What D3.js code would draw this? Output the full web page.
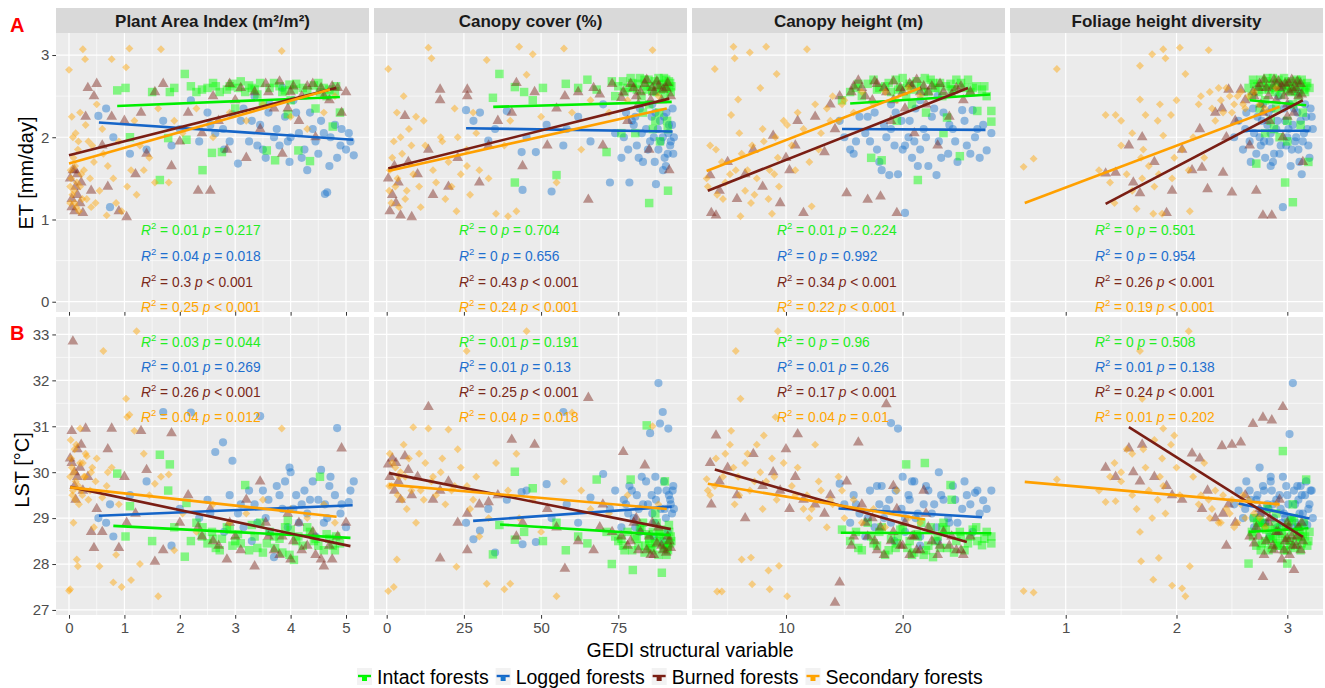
<!DOCTYPE html>
<html>
<head>
<meta charset="utf-8">
<script src="https://cdn.jsdelivr.net/npm/d3@7"></script>
<style>
  body { margin: 0; background: #fff; }
  svg { font-family: "Liberation Sans", Arial, sans-serif; }
</style>
</head>
<body>
<div id="chart"></div>
<script>
// ---- data: [x, ET (mm/day), LST (°C)] per site ----
const groups = ["Intact forests", "Logged forests", "Burned forests", "Secondary forests"];
const columns = ["Plant Area Index (m²/m²)", "Canopy cover (%)", "Canopy height (m)", "Foliage height diversity"];

const paiIntact = [[0.87,2.57,29.97],[1.02,2.6,28.6],[1.1,2.0,29.26],[1.64,1.48,30.38],[1.79,1.99,29.6],[1.82,2.55,30.17],[2.09,2.77,28.16],[2.12,1.97,29.33],[2.2,2.62,28.5],[2.41,1.6,28.8],[2.5,2.6,28.45],[2.58,1.81,28.7],[2.65,2.62,28.35],[2.76,1.82,28.55],[2.85,2.58,28.8],[2.95,2.65,28.4],[3.05,2.6,28.65],[3.18,2.55,29.72],[3.25,2.63,28.3],[3.35,2.58,28.6],[3.45,2.66,28.9],[3.57,1.84,28.45],[3.62,2.6,28.7],[3.72,1.72,28.35],[3.8,2.62,28.55],[3.9,2.57,28.8],[3.98,2.64,28.2],[4.06,2.58,28.09],[4.14,1.84,28.6],[4.22,2.6,28.4],[4.35,1.71,28.7],[4.42,2.63,28.5],[4.53,2.55,29.9],[4.6,2.6,28.3],[4.7,2.58,28.55],[4.76,2.13,28.4],[4.82,2.62,28.6],[4.89,2.3,28.45],[3.0,2.35,28.5],[4.0,2.45,28.75],[3.5,2.4,28.25],[2.3,2.55,28.9],
  [2.6,2.66,28.55],[2.72,2.55,28.3],[2.9,2.62,28.75],[3.1,2.68,28.45],[3.3,2.6,28.85],[3.4,2.52,28.35],[3.7,2.66,28.6],[3.85,2.55,28.25],[4.1,2.65,28.5],[4.3,2.57,28.8],[4.5,2.66,28.4],[4.65,2.5,28.65],[4.8,2.56,28.3],[2.4,2.58,28.6],[1.9,2.6,28.8],[1.5,2.55,28.5],[3.95,2.28,28.95],[4.45,2.35,28.55]];
const paiLogged = [[0.53,2.26,29.0],[0.67,2.35,28.9],[0.74,1.15,29.3],[0.8,2.0,28.6],[1.1,1.8,29.5],[1.4,1.85,29.8],[1.7,2.2,31.31],[1.85,1.9,28.4],[2.0,2.1,29.2],[2.2,2.45,31.3],[2.35,1.95,29.0],[2.5,2.3,29.4],[2.64,2.05,30.44],[2.78,2.1,30.65],[2.95,2.28,30.25],[3.05,1.68,29.1],[3.15,2.35,28.8],[3.25,1.95,29.6],[3.35,2.5,29.3],[3.45,2.15,31.22],[3.55,1.75,29.0],[3.62,2.4,28.7],[3.7,2.0,28.15],[3.8,1.9,29.5],[3.9,2.25,29.8],[3.98,1.7,30.1],[4.05,2.45,29.2],[4.15,2.05,28.9],[4.25,1.85,29.6],[4.35,2.3,29.4],[4.45,1.95,28.6],[4.55,2.2,30.05],[4.62,1.31,29.3],[4.66,1.33,29.0],[4.72,2.0,29.9],[4.84,1.75,30.96],[4.92,2.1,29.3],[5.0,1.85,28.8],[5.08,1.95,29.6],[5.14,1.78,29.8],[3.3,2.2,28.5],[2.8,1.85,28.7],[4.3,1.6,29.1],[3.85,2.6,29.2],
  [2.55,2.15,29.1],[2.9,1.95,29.5],[3.1,2.2,29.3],[3.4,1.9,28.9],[3.6,2.3,29.4],[3.75,2.1,29.7],[3.95,1.95,28.8],[4.1,2.3,29.5],[4.2,1.75,29.3],[4.4,2.1,29.8],[4.5,1.8,29.4],[4.6,2.05,28.9],[4.8,2.15,29.5],[4.9,1.9,29.1],[5.05,2.05,29.35],[4.7,1.65,29.7],[3.5,1.85,29.6],[4.0,2.0,30.0]];
const paiBurned = [[0.02,1.5,30.3],[0.05,1.25,30.9],[0.07,1.6,32.85],[0.1,1.1,30.0],[0.12,1.4,29.4],[0.15,1.55,30.5],[0.2,1.2,30.1],[0.25,1.08,29.6],[0.3,2.25,30.95],[0.34,2.6,29.9],[0.4,1.35,28.7],[0.45,2.5,28.35],[0.5,2.65,29.2],[0.6,1.9,28.7],[0.7,1.4,30.5],[0.77,2.25,30.95],[0.9,1.1,28.35],[1.0,2.2,29.9],[1.04,1.03,28.9],[1.2,1.55,29.1],[1.3,2.3,30.9],[1.4,1.8,30.05],[1.55,2.55,28.05],[1.7,2.65,28.3],[1.85,1.65,30.85],[2.0,1.95,28.9],[2.15,2.3,29.5],[2.33,1.35,28.8],[2.55,1.35,29.2],[2.7,2.2,28.4],[2.85,1.85,28.1],[3.0,2.45,28.6],[3.2,1.75,29.4],[3.35,2.55,27.95],[3.45,2.1,29.8],[3.55,2.65,28.9],[3.7,2.35,28.3],[3.85,1.8,28.6],[4.0,2.55,28.1],[4.15,2.2,28.9],[4.3,2.62,28.4],[4.45,2.0,28.2],[4.6,2.5,27.95],[4.75,2.62,28.1],[4.92,2.3,30.52],[5.0,2.55,28.9],[2.4,2.05,28.6],[3.95,2.35,29.1],
  [3.1,2.6,28.3],[3.6,2.55,28.6],[3.8,2.68,28.2],[4.05,2.62,28.5],[4.2,2.5,28.3],[4.4,2.65,28.7],[4.55,2.6,28.1],[4.7,2.45,28.4],[4.85,2.6,28.6],[2.9,2.65,28.9],[2.6,2.5,28.5],[0.05,1.15,30.2],[0.15,1.3,29.9],[0.22,1.45,30.6],[0.1,1.6,29.7]];
const paiSecondary = [[0.0,2.82,27.42],[0.02,1.4,27.45],[0.03,1.6,30.7],[0.05,2.25,30.1],[0.06,1.3,29.5],[0.08,1.75,28.9],[0.1,1.2,30.5],[0.12,2.05,29.8],[0.14,1.45,28.1],[0.16,1.85,27.95],[0.18,1.1,29.3],[0.2,2.3,30.95],[0.22,1.55,29.6],[0.25,3.07,30.2],[0.29,2.95,29.9],[0.32,1.25,30.35],[0.35,1.95,29.4],[0.4,1.15,30.0],[0.45,1.7,28.8],[0.5,2.4,30.3],[0.55,1.35,27.95],[0.62,1.8,32.64],[0.68,1.05,29.7],[0.77,2.95,30.1],[0.8,1.5,27.6],[0.85,1.2,28.2],[0.9,1.95,29.3],[0.95,1.1,27.5],[1.03,2.85,31.6],[1.05,1.4,31.2],[1.09,3.08,31.25],[1.12,1.6,27.65],[1.18,2.2,30.9],[1.22,1.3,33.07],[1.28,1.9,28.0],[1.35,1.6,30.4],[1.45,1.75,29.5],[1.55,1.45,29.75],[1.61,2.35,27.3],[1.66,3.07,29.9],[1.8,1.45,29.95],[1.9,2.2,28.3],[2.05,2.05,29.1],[2.3,2.35,28.7],[2.6,2.0,29.3],[2.9,2.3,28.9],[3.2,2.2,29.1],[3.5,2.4,29.4],[3.84,3.05,30.95],[4.0,2.25,29.2],[4.3,2.1,29.0],[4.6,2.3,29.3],[4.8,2.5,28.9],
  [0.02,1.2,29.9],[0.04,1.5,30.3],[0.07,2.0,29.6],[0.09,1.35,30.0],[0.11,1.65,29.4],[0.13,1.15,30.6],[0.17,1.95,29.7],[0.2,1.4,30.2],[0.24,1.25,29.5],[0.27,1.6,29.9],[0.3,2.15,30.4],[0.38,1.5,29.6],[0.42,1.9,30.1],[0.48,1.2,29.8],[0.6,2.1,29.45],[0.7,1.65,30.0]];

const coverIntact = [[34.4,2.48,28.21],[36.5,2.77,28.85],[41.5,2.61,28.53],[41.5,1.45,30.01],[44.5,2.55,28.7],[47.3,2.45,29.65],[50.6,2.6,28.5],[55,1.54,28.9],[58,2.65,28.3],[62,2.6,28.6],[65,2.7,28.45],[68,2.58,29.84],[71.2,1.82,28.7],[72.9,2.68,28.0],[75,2.62,28.5],[77,2.55,28.3],[79,2.72,29.84],[79.7,2.6,27.87],[80.5,2.05,28.6],[81.5,2.65,28.4],[82.5,2.5,28.8],[83.5,2.7,28.25],[84.2,2.58,31.02],[85,1.2,28.55],[85.5,2.62,28.35],[86.2,2.1,28.7],[86.8,2.68,28.45],[87.4,2.55,28.9],[88,2.72,28.2],[88.5,1.95,28.6],[89.1,2.6,27.81],[89.6,2.65,28.4],[90.1,2.5,29.8],[90.5,2.7,28.55],[91.1,1.35,28.3],[91.5,2.6,28.7],[91.8,2.66,28.45],[92,2.55,28.6],[87,2.2,29.1],[83,2.3,28.9],[76,2.05,28.55],[90.8,2.2,28.35],
  [76.5,2.68,28.4],[78,2.6,28.7],[79.5,2.66,28.3],[81,2.58,28.55],[82,2.72,28.8],[83.8,2.62,28.4],[84.8,2.7,28.65],[86,2.56,28.3],[87.6,2.64,28.5],[88.8,2.58,28.75],[89.8,2.72,28.35],[90.6,2.6,28.2],[91.4,2.68,28.85],[92.2,2.62,28.5],[85,2.4,28.45],[88.2,2.3,28.65],[91,2.1,28.4],[74,2.5,28.6]];
const coverLogged = [[25.7,2.33,28.9],[28.1,2.2,28.54],[30.2,2.3,28.73],[32.9,1.96,29.2],[35.1,2.1,28.25],[38.9,2.32,29.4],[43.7,1.82,29.57],[44,1.36,28.43],[45.3,2.0,29.6],[48.3,1.82,28.48],[51.8,2.15,29.74],[53.4,1.34,29.0],[57.2,1.9,31.31],[58.3,2.1,29.3],[62,2.25,28.9],[66,1.95,29.45],[70.1,2.4,29.96],[72.3,1.45,29.2],[74,2.05,29.6],[76,1.75,28.8],[77.5,2.3,29.3],[78.6,1.45,29.7],[80,2.15,29.0],[81,1.9,29.5],[82,2.35,28.7],[83,1.7,29.3],[84,2.1,29.8],[85.3,1.95,30.85],[86,2.4,29.1],[87.2,1.43,29.4],[88,1.85,31.94],[88.5,2.2,31.06],[89.4,2.0,31.31],[90,1.75,29.2],[90.6,2.3,29.6],[91.2,2.05,30.95],[91.8,1.9,29.4],[92.4,2.15,29.1],[92.8,1.8,29.7],[86.5,2.0,28.6],[80.5,2.25,28.8],[89.5,1.6,28.5],
  [76.8,2.0,29.4],[78.2,1.85,29.1],[79.4,2.2,29.6],[81.6,1.75,29.2],[82.6,2.05,29.9],[84.6,1.85,29.3],[85.8,2.25,29.5],[86.8,1.7,28.9],[87.8,2.1,29.6],[88.8,1.95,29.2],[89.8,2.25,29.8],[90.4,1.65,29.0],[91.4,2.15,29.5],[92,1.95,29.3],[92.6,2.35,29.6],[93,2.0,29.2],[91,1.8,28.7],[87,2.3,29.9]];
const coverBurned = [[0.5,1.5,30.17],[1,1.1,29.9],[1.8,1.3,30.3],[2.5,1.65,29.6],[3,1.2,30.2],[3.8,1.45,29.8],[4.5,1.05,29.4],[5.9,2.26,30.35],[7,1.7,30.05],[8.1,1.03,29.5],[10,1.55,29.9],[13.5,1.85,31.42],[15,1.3,29.4],[17.3,2.58,28.12],[17.3,2.45,29.6],[20,1.4,29.8],[23,1.75,28.9],[26.1,2.58,28.3],[26.1,2.5,29.1],[30,1.45,29.3],[33,1.9,29.35],[36,2.2,29.5],[40.5,2.3,30.71],[42,2.66,28.6],[44,1.65,28.9],[47.9,2.55,30.6],[52,1.9,29.2],[55,2.35,28.8],[57.7,2.5,27.9],[62,2.55,28.5],[65.3,1.24,31.62],[67,2.6,28.3],[70,1.9,29.3],[73,2.65,28.7],[76.6,2.55,30.44],[78,2.2,28.4],[80,2.6,28.9],[81.5,2.4,28.3],[83.6,2.65,30.15],[85,1.85,28.6],[86.5,2.55,28.2],[88,2.62,28.8],[89,2.45,28.4],[90.5,2.6,28.25],[91.5,1.6,28.5],[76,2.48,28.6],[69,2.52,28.8],
  [79,2.65,28.5],[82.2,2.55,28.7],[84.2,2.7,28.3],[86,2.6,28.9],[87.5,2.68,28.45],[89.5,2.58,28.3],[91,2.66,28.6],[92,2.5,28.35],[85.5,2.45,28.2],[80.8,2.5,29.0]];
const coverSecondary = [[0.5,2.83,27.41],[1,1.6,30.4],[1.5,1.2,29.7],[2.3,1.95,27.5],[2.8,1.4,30.1],[3.3,2.3,28.1],[4,1.15,29.9],[5,1.8,29.4],[5.5,2.5,30.6],[6.5,1.35,29.2],[7.2,2.1,30.3],[8.6,1.55,30.98],[9.5,2.25,28.9],[11,1.15,29.6],[12.5,1.9,30.2],[13.5,3.09,30.95],[14.5,2.96,29.8],[16,1.45,29.5],[17.5,2.0,30.0],[19,1.25,29.3],[20,1.7,30.93],[22,2.35,29.7],[22.6,1.1,27.94],[24,1.55,30.1],[25.9,1.85,32.64],[27,1.3,29.2],[29,2.05,29.9],[30,1.6,28.6],[32.4,2.94,27.57],[33,1.5,29.0],[35.4,1.07,30.2],[38.1,1.9,27.45],[39.3,1.04,29.6],[40,2.2,27.57],[42,1.1,30.4],[42.9,3.1,29.0],[45.3,2.76,33.07],[47.3,3.01,29.4],[50,2.25,28.7],[55,1.45,27.3],[57.4,3.08,29.8],[60,2.3,31.3],[63,1.85,29.6],[66,2.45,29.2],[72,2.3,29.1],[78,2.45,29.5],[86.1,3.06,31.0],[88,2.5,29.3],
  [0.8,1.35,29.7],[1.8,1.75,30.2],[3.5,1.5,29.5],[4.5,2.0,30.0],[6,1.25,29.9],[8,1.9,29.6],[10.5,1.4,30.4],[12,2.2,29.4],[15,1.6,29.9],[18,1.95,30.3],[21,1.4,29.6],[23,2.0,30.5],[26,1.65,29.7],[28,2.3,29.4]];

const heightIntact = [[14.8,2.45,28.75],[15.5,2.55,28.5],[16,2.6,28.7],[16.5,2.5,28.3],[17,2.65,28.9],[17.3,1.75,28.6],[17.8,2.58,28.4],[18.2,1.72,28.8],[18.5,2.62,28.2],[19,2.55,28.55],[19.4,2.7,28.35],[19.8,2.6,28.75],[20.3,2.5,30.17],[20.6,2.65,28.5],[21,2.58,28.25],[21.3,1.48,28.6],[21.6,2.62,28.9],[21.9,2.72,30.2],[22.2,2.55,28.4],[22.6,2.66,28.15],[23,2.6,28.6],[23.4,2.5,28.8],[23.8,2.24,28.35],[24.1,2.65,29.72],[24.2,2.58,29.4],[24.6,2.7,28.5],[24.9,1.77,28.7],[25.3,2.6,28.3],[25.8,2.55,28.6],[26.3,2.62,28.8],[26.4,2.32,28.5],[26.8,2.58,28.41],[27.2,2.5,28.7],[27.6,2.19,28.6],[27.6,2.32,28.45],[22,2.3,28.3],[19.5,2.2,28.45],[23.5,2.05,28.9],[20.8,2.4,28.2],
  [17.5,2.7,28.45],[18,2.6,28.7],[18.8,2.66,28.3],[19.6,2.58,28.6],[20,2.72,28.8],[20.4,2.62,28.35],[21.2,2.68,28.65],[21.8,2.55,28.2],[22.4,2.7,28.8],[22.8,2.6,28.5],[23.2,2.66,28.35],[23.7,2.62,28.75],[24.4,2.58,28.25],[25,2.66,28.6],[25.6,2.7,28.45],[26,2.6,28.75],[27,2.62,28.55],[16.2,2.65,28.35]];
const heightLogged = [[14.6,2.2,29.75],[15,2.0,29.3],[15.5,1.85,28.9],[15.8,1.8,29.5],[16.3,2.25,29.1],[16.8,2.05,28.6],[17.2,1.95,29.6],[17.6,2.3,28.8],[18,1.7,29.3],[18.4,2.15,29.0],[18.85,1.54,29.4],[19,2.4,31.07],[19.3,1.9,28.5],[19.6,1.55,30.95],[19.9,2.2,29.2],[20.2,1.08,28.7],[20.5,2.0,29.5],[20.8,1.75,29.8],[21.1,2.35,29.0],[21.5,1.85,28.6],[21.8,2.1,29.3],[22.2,1.65,29.6],[22.5,2.25,29.1],[22.9,1.54,28.8],[23.1,1.95,30.0],[23.5,2.3,29.4],[23.9,1.8,29.0],[24.3,2.1,29.7],[24.7,1.7,28.9],[25.1,2.33,29.2],[25.5,1.9,29.5],[26,2.33,28.7],[26.2,2.0,29.55],[26.6,1.75,29.1],[26.9,2.15,29.39],[27.2,1.84,29.2],[27.6,2.05,29.6],[20,1.85,29.9],[21.5,2.45,28.4],[18.2,1.6,29.7],[23,2.5,28.5],
  [16,1.95,29.3],[17,2.25,29.0],[17.8,1.85,29.7],[18.6,2.0,29.2],[19.4,2.3,29.6],[20.2,1.9,29.0],[20.6,2.2,29.4],[21.3,1.65,29.1],[22,2.0,29.7],[22.7,2.35,29.3],[23.3,1.75,29.5],[24,2.15,28.9],[24.5,1.95,29.4],[25.3,2.2,29.8],[25.8,1.8,29.3],[26.4,2.1,29.6],[19,2.1,28.9],[21,1.95,29.8]];
const heightBurned = [[3.5,1.54,30.2],[3.6,1.08,29.3],[4,1.05,30.8],[4.3,1.35,29.8],[5,1.7,30.1],[5.8,1.25,29.5],[6.5,1.55,29.0],[7.2,1.85,30.4],[8,1.4,29.7],[8.9,2.02,30.0],[9.5,1.2,29.6],[10,1.75,30.5],[10.3,1.6,29.2],[10.8,1.9,29.9],[11,2.2,30.83],[11.5,1.08,29.4],[12.5,2.25,29.3],[13.3,1.82,29.1],[13.8,2.4,29.5],[14.2,2.1,27.16],[14.6,2.5,27.6],[15.2,1.32,29.8],[15.6,2.55,28.4],[16.2,2.69,30.65],[16.5,2.6,29.3],[17,1.24,28.6],[17.4,2.45,29.0],[17.8,2.65,28.3],[18.1,1.28,28.8],[18.6,2.55,31.48],[19,2.2,28.5],[19.5,1.08,29.2],[19.8,2.6,28.4],[20.2,2.35,28.9],[20.6,2.65,28.2],[21,2.05,28.6],[21.5,2.55,28.3],[22,2.4,29.1],[22.5,2.62,28.5],[23,1.9,28.2],[23.5,2.55,28.7],[24,2.25,28.4],[24.6,2.6,28.3],[25.2,2.45,28.2],[25.8,2.55,28.6],[19.2,2.45,29.7],[21.8,2.62,29.6],
  [15.8,2.62,28.6],[16.8,2.5,28.9],[17.6,2.68,28.5],[18.4,2.6,28.2],[19.2,2.68,28.7],[20,2.55,28.4],[20.8,2.62,28.6],[21.2,2.7,28.3],[22.2,2.55,28.8],[23.2,2.65,28.4],[24.2,2.52,28.6],[25,2.62,28.3]];
const heightSecondary = [[3.2,1.5,29.85],[3.5,1.9,29.5],[3.9,2.83,29.7],[4.1,1.3,27.4],[4.5,1.7,27.4],[4.8,1.45,30.4],[5.3,2.27,30.9],[5.5,3.1,30.1],[5.6,2.96,29.3],[5.7,1.6,32.64],[5.9,2.46,29.9],[6.1,1.04,31.6],[6.2,1.8,28.1],[6.5,1.35,30.2],[6.9,3.03,29.6],[7.0,1.2,28.14],[7.1,1.9,27.56],[7.5,1.5,30.6],[8,2.1,29.2],[8.3,3.1,29.8],[8.5,1.25,27.86],[8.6,1.6,27.45],[8.8,1.07,30.3],[9.1,2.0,31.2],[9.2,2.77,29.4],[9.3,1.75,33.07],[9.4,1.4,27.96],[10.1,2.15,27.3],[10.5,1.9,29.7],[11,2.3,30.1],[11.8,3.07,29.5],[12.2,1.16,29.2],[12.5,2.4,30.6],[13,2.05,29.6],[13.5,2.35,28.8],[14,2.5,29.3],[14.5,2.2,29.9],[15,2.45,29.0],[15.8,2.3,29.4],[16.5,2.55,28.9],[17.5,2.4,29.2],[18.5,2.55,28.8],[19.5,2.45,29.6],[20.5,2.6,29.0],[21.5,2.5,28.9],[12,1.7,29.0],[7.8,2.6,30.0],
  [3.3,1.4,29.6],[4,1.85,30.3],[4.6,1.25,29.9],[5.2,1.55,30.6],[6,2.05,29.5],[6.7,1.6,30.4],[7.3,1.3,29.8],[8.1,1.95,30.8],[9,1.55,29.9],[9.8,2.2,30.2],[10.8,1.6,29.5],[11.5,2.1,29.2],[12.8,1.85,29.8],[13.8,2.2,29.4],[14.8,2.4,29.6]];

const fhdIntact = [[2.65,2.6,28.01],[2.68,2.5,28.7],[2.7,2.65,29.0],[2.72,1.68,28.4],[2.74,2.55,28.8],[2.76,2.7,28.3],[2.78,2.62,28.9],[2.8,2.45,28.5],[2.82,2.72,29.2],[2.84,2.58,28.6],[2.86,2.65,28.35],[2.88,2.1,28.75],[2.9,2.6,29.1],[2.92,2.7,28.45],[2.94,2.52,28.8],[2.96,2.65,30.46],[2.98,1.45,28.6],[3.0,2.58,28.01],[3.01,2.68,28.9],[3.03,2.55,28.4],[3.05,1.21,28.7],[3.06,2.62,29.0],[3.08,2.7,28.5],[3.1,2.5,28.8],[3.12,2.65,28.3],[3.14,2.3,28.65],[3.15,2.58,28.9],[3.17,2.62,29.84],[3.19,1.7,28.5],[3.2,2.6,28.7],[2.85,2.2,28.55],[3.0,1.95,28.3],[2.75,2.35,28.95],[3.05,2.4,29.3],[2.93,2.0,28.4],[3.12,2.15,28.6],
  [2.69,2.7,28.6],[2.73,2.62,28.9],[2.77,2.58,28.45],[2.81,2.68,28.75],[2.83,2.6,28.3],[2.87,2.72,28.55],[2.89,2.55,28.85],[2.91,2.66,28.4],[2.95,2.6,28.65],[2.97,2.72,28.3],[2.99,2.62,28.8],[3.02,2.66,28.5],[3.04,2.6,28.95],[3.07,2.56,28.35],[3.09,2.68,28.6],[3.11,2.6,28.75],[3.13,2.7,28.45],[3.16,2.55,28.6],[3.18,2.66,28.4],[2.9,2.35,28.6],[3.0,2.2,28.5],[2.8,2.05,28.8]];
const fhdLogged = [[2.52,2.0,29.3],[2.56,2.2,29.6],[2.6,1.85,29.0],[2.63,2.3,29.8],[2.67,1.7,29.4],[2.7,2.05,28.8],[2.73,2.25,29.5],[2.76,1.9,29.1],[2.78,2.4,29.7],[2.8,1.75,28.9],[2.82,2.15,29.3],[2.84,1.95,28.6],[2.86,2.35,29.6],[2.88,1.8,29.0],[2.9,2.1,29.4],[2.92,2.5,28.7],[2.94,1.9,29.2],[2.96,1.15,29.9],[2.98,2.2,29.0],[3.0,2.0,29.5],[3.02,2.4,30.83],[3.04,1.85,28.8],[3.05,2.15,31.94],[3.07,1.95,29.3],[3.09,2.3,29.7],[3.11,1.7,29.1],[3.13,1.55,29.5],[3.15,2.05,28.9],[3.17,2.25,29.8],[3.19,1.9,29.2],[3.21,2.35,29.6],[3.23,2.1,29.0],[2.95,2.6,28.9],[2.85,1.65,29.9],[3.1,2.55,28.8],[2.75,2.0,30.1],
  [2.62,2.1,29.2],[2.66,1.95,29.6],[2.69,2.35,29.0],[2.72,1.8,29.4],[2.77,2.2,28.9],[2.79,1.95,29.6],[2.83,2.3,29.2],[2.85,2.05,29.8],[2.87,1.7,29.3],[2.91,2.2,28.8],[2.93,1.8,29.5],[2.97,2.35,29.1],[2.99,1.9,29.7],[3.01,2.1,29.3],[3.03,1.65,29.0],[3.06,2.35,29.6],[3.08,2.0,28.9],[3.1,1.85,29.4],[3.12,2.2,29.7],[3.14,1.95,29.1],[3.16,2.4,29.5],[3.18,2.1,28.85],[3.2,1.75,29.3],[3.22,2.25,29.6]];
const fhdBurned = [[1.36,1.56,30.1],[1.45,1.57,29.9],[1.57,1.9,30.52],[1.61,1.45,30.0],[1.67,1.32,29.8],[1.69,2.0,30.6],[1.8,1.7,29.9],[1.91,1.08,29.7],[1.96,1.35,29.5],[2.05,1.85,29.4],[2.14,1.6,30.41],[2.21,2.1,30.3],[2.23,1.63,29.2],[2.28,1.37,29.6],[2.35,2.3,29.0],[2.41,2.35,30.57],[2.42,1.57,29.1],[2.45,2.0,28.4],[2.47,2.58,29.3],[2.5,1.33,30.6],[2.53,2.2,28.9],[2.58,2.58,30.65],[2.62,2.45,29.5],[2.66,1.9,28.6],[2.69,2.55,31.05],[2.72,1.35,28.8],[2.75,2.65,29.2],[2.78,1.05,31.19],[2.78,2.3,27.72],[2.81,2.6,28.5],[2.84,2.2,29.0],[2.86,1.05,31.13],[2.88,2.7,28.3],[2.9,2.45,28.7],[2.93,2.6,29.4],[2.96,2.0,31.42],[2.98,2.65,28.5],[3.0,2.4,28.9],[3.02,2.55,28.2],[3.04,2.7,28.6],[3.06,2.3,27.87],[3.08,2.6,28.4],[3.1,2.5,28.8],[3.12,2.65,28.3],[3.14,1.7,28.5],[2.7,2.5,28.45],[2.95,2.62,28.1],
  [2.74,2.6,28.6],[2.79,2.7,28.2],[2.83,2.5,28.9],[2.87,2.62,28.4],[2.92,2.68,28.7],[2.97,2.5,28.3],[3.01,2.66,28.8],[3.05,2.58,28.4],[3.09,2.68,28.6],[3.13,2.52,28.9],[2.76,2.4,29.1],[3.0,2.25,28.55]];
const fhdSecondary = [[0.62,1.64,27.41],[0.71,1.74,27.38],[0.92,2.83,29.84],[1.3,1.6,29.6],[1.36,2.27,29.35],[1.4,1.45,29.9],[1.44,1.2,30.2],[1.45,2.27,29.37],[1.5,1.9,29.8],[1.55,1.55,30.5],[1.6,1.35,29.5],[1.64,1.13,29.2],[1.67,2.87,32.64],[1.67,2.46,28.7],[1.68,1.75,28.06],[1.69,1.5,31.6],[1.72,2.27,30.1],[1.75,1.65,29.6],[1.78,3.01,29.0],[1.79,1.07,27.66],[1.8,1.4,30.7],[1.83,2.2,29.4],[1.84,1.55,28.13],[1.87,1.07,30.3],[1.88,3.07,30.95],[1.88,2.02,29.7],[1.9,2.96,29.1],[1.95,2.27,30.6],[1.96,1.5,27.53],[2.03,3.09,29.5],[2.05,1.85,27.47],[2.08,2.77,27.3],[2.11,1.6,33.07],[2.12,1.1,27.95],[2.15,2.0,29.9],[2.2,2.4,29.3],[2.25,1.75,30.2],[2.29,3.06,29.4],[2.3,2.55,29.0],[2.35,2.2,29.6],[2.4,2.45,28.9],[2.45,2.6,29.2],[2.5,2.3,29.4],[2.55,2.5,28.9],[2.6,2.4,29.5],[2.7,2.55,29.1],[2.8,2.35,28.8],[2.9,2.6,29.3],[2.0,2.45,30.1],[1.6,2.05,30.4],
  [2.22,2.5,29.5],[2.32,2.35,29.2],[2.38,2.6,28.9],[2.42,2.3,29.5],[2.48,2.5,29.1],[2.52,2.4,28.8],[2.58,2.55,29.3],[2.62,2.35,29.0],[2.65,2.5,29.4],[2.75,2.4,29.0],[1.5,2.2,30.0],[1.7,1.85,30.5],[1.85,2.4,29.9],[1.98,1.75,30.8]];

// fitted lines [x0, y0, x1, y1], per column, per group
const etFits = [
  [[0.87,2.38,4.89,2.49],[0.54,2.18,5.13,1.97],[0,1.78,4.82,2.60],[0,1.68,4.71,2.58]],
  [[34.5,2.37,92.3,2.43],[25.7,2.11,92.6,2.07],[0.5,1.62,91.5,2.47],[0.5,1.59,90.7,2.35]],
  [[15.5,2.41,27.5,2.52],[14.8,2.10,27.1,2.09],[3.3,1.35,25.6,2.60],[3.2,1.59,21.5,2.60]],
  [[2.66,2.45,3.17,2.39],[2.60,2.08,3.20,2.08],[1.36,1.19,3.14,2.45],[0.63,1.20,2.93,2.37]]
];
const lstFits = [
  [[0.80,28.83,5.08,28.57],[0.54,29.05,5.12,29.28],[0.02,29.68,5.08,28.39],[0.02,29.67,4.83,29.03]],
  [[36.7,28.86,92.0,28.63],[28.0,28.94,92.3,29.25],[0.8,29.98,92.0,28.76],[0.8,29.73,90.7,29.20]],
  [[14.7,28.68,27.6,28.67],[14.5,29.21,26.8,29.02],[3.9,30.06,25.5,28.48],[3.3,29.75,21.9,28.97]],
  [[2.65,28.70,3.19,28.78],[2.56,29.32,3.20,28.99],[1.57,30.98,3.14,28.59],[0.63,29.79,2.93,29.30]]
];

// R² and p labels, per column, per group
const etR2 = [["0.01","0.04","0.3","0.25"],["0","0","0.43","0.24"],["0.01","0","0.34","0.22"],["0","0","0.26","0.19"]];
const etP = [["= 0.217","= 0.018","< 0.001","< 0.001"],["= 0.704","= 0.656","< 0.001","< 0.001"],["= 0.224","= 0.992","< 0.001","< 0.001"],["= 0.501","= 0.954","< 0.001","< 0.001"]];
const lstR2 = [["0.03","0.01","0.26","0.04"],["0.01","0.01","0.25","0.04"],["0","0.01","0.17","0.04"],["0","0.01","0.24","0.01"]];
const lstP = [["= 0.044","= 0.269","< 0.001","= 0.012"],["= 0.191","= 0.13","< 0.001","= 0.018"],["= 0.96","= 0.26","< 0.001","= 0.01"],["= 0.508","= 0.138","< 0.001","= 0.202"]];

const xTicks = [[0,1,2,3,4,5],[0,25,50,75],[10,20],[1,2,3]];
const etTicks = [0,1,2,3];
const lstTicks = [27,28,29,30,31,32,33];

// build per-column table from the arrays
const columnData = [
  [paiIntact, paiLogged, paiBurned, paiSecondary],
  [coverIntact, coverLogged, coverBurned, coverSecondary],
  [heightIntact, heightLogged, heightBurned, heightSecondary],
  [fhdIntact, fhdLogged, fhdBurned, fhdSecondary]
];

// ---- layout ----
const width = 1325, height = 688;
const panelLeft = [56, 374, 692, 1010];
const panelW = 313;
const xDomains = [[-0.235, 5.415], [-4.11, 97.25], [1.945, 28.77], [0.497, 3.322]];
const rowsCfg = [
  { top: 33, bottom: 312, domain: [-0.125, 3.268], ticks: etTicks, fits: etFits, r2: etR2, p: etP,
    title: "ET [mm/day]", titleX: 33, titleY: 173, statY: [202, 228, 254, 279], tag: "A", tagY: 32 },
  { top: 317, bottom: 615, domain: [26.89, 33.38], ticks: lstTicks, fits: lstFits, r2: lstR2, p: lstP,
    title: "LST [°C]", titleX: 29, titleY: 470, statY: [30, 55, 80, 105], tag: "B", tagY: 340 }
];

const pointColor = ["#00FF00", "#1874CD", "#7B2216", "#FFA500"];
const lineColor = ["#00EE00", "#1565C8", "#7A1E14", "#FFA000"];
const textColor = ["#22EE22", "#1E6FCF", "#7A2818", "#FFA500"];
const symbols = [
  d3.symbol().type(d3.symbolSquare).size(72),
  d3.symbol().type(d3.symbolCircle).size(52),
  d3.symbol().type(d3.symbolTriangle).size(50),
  d3.symbol().type(d3.symbolDiamond2).size(40)
];
const drawOrder = [1, 0, 2, 3];

const svg = d3.select("#chart").append("svg")
  .attr("width", width).attr("height", height);

function minorOf(ticks, domain) {
  const step = ticks.length > 1 ? ticks[1] - ticks[0] : 1;
  const out = [];
  for (let i = -1; i < ticks.length; i++) {
    const v = ticks[0] + (i + 0.5) * step;
    if (v > domain[0] && v < domain[1]) out.push(v);
  }
  return out;
}

rowsCfg.forEach((row, r) => {
  const yScale = d3.scaleLinear().domain(row.domain).range([row.bottom, row.top]);

  columns.forEach((colName, c) => {
    const x0 = panelLeft[c];
    const xScale = d3.scaleLinear().domain(xDomains[c]).range([x0, x0 + panelW]);
    const g = svg.append("g");
    const clipId = `clip-${r}-${c}`;
    svg.append("clipPath").attr("id", clipId).append("rect")
      .attr("x", x0).attr("y", row.top).attr("width", panelW).attr("height", row.bottom - row.top);

    g.append("rect").attr("x", x0).attr("y", row.top)
      .attr("width", panelW).attr("height", row.bottom - row.top).attr("fill", "#EBEBEB");

    // grid
    const grid = g.append("g");
    minorOf(xTicks[c], xDomains[c]).forEach(v => grid.append("line")
      .attr("x1", xScale(v)).attr("x2", xScale(v)).attr("y1", row.top).attr("y2", row.bottom)
      .attr("stroke", "#fff").attr("stroke-width", 0.6));
    minorOf(row.ticks, row.domain).forEach(v => grid.append("line")
      .attr("x1", x0).attr("x2", x0 + panelW).attr("y1", yScale(v)).attr("y2", yScale(v))
      .attr("stroke", "#fff").attr("stroke-width", 0.6));
    xTicks[c].forEach(v => grid.append("line")
      .attr("x1", xScale(v)).attr("x2", xScale(v)).attr("y1", row.top).attr("y2", row.bottom)
      .attr("stroke", "#fff").attr("stroke-width", 1.2));
    row.ticks.forEach(v => grid.append("line")
      .attr("x1", x0).attr("x2", x0 + panelW).attr("y1", yScale(v)).attr("y2", yScale(v))
      .attr("stroke", "#fff").attr("stroke-width", 1.2));

    // points
    const pts = g.append("g").attr("clip-path", `url(#${clipId})`);
    drawOrder.forEach(k => {
      pts.selectAll(null)
        .data(columnData[c][k])
        .join("path")
        .attr("d", symbols[k])
        .attr("transform", d => `translate(${xScale(d[0])},${yScale(d[r + 1])})`)
        .attr("fill", pointColor[k])
        .attr("fill-opacity", 0.45);
    });

    // fitted lines
    row.fits[c].forEach((f, k) => {
      pts.append("line")
        .attr("x1", xScale(f[0])).attr("y1", yScale(f[1]))
        .attr("x2", xScale(f[2])).attr("y2", yScale(f[3]))
        .attr("stroke", lineColor[k]).attr("stroke-width", 2.6);
    });

    // stats text
    groups.forEach((gname, k) => {
      const t = g.append("text")
        .attr("x", x0 + 85).attr("y", row.top + row.statY[k])
        .attr("fill", textColor[k]).style("font-size", "13.8px");
      t.append("tspan").style("font-style", "italic").text("R");
      t.append("tspan").attr("dy", -6).style("font-size", "9.5px").text("2");
      t.append("tspan").attr("dy", 6).text(` = ${row.r2[c][k]} `);
      t.append("tspan").style("font-style", "italic").text("p");
      t.append("tspan").text(` ${row.p[c][k]}`);
    });

    // x axis
    const xAxis = d3.axisBottom(xScale).tickValues(xTicks[c]).tickSize(3.7).tickPadding(4)
      .tickFormat(r === 1 ? d3.format("d") : "");
    const ax = svg.append("g").attr("transform", `translate(0,${row.bottom})`).call(xAxis);
    ax.select(".domain").remove();
    ax.selectAll(".tick line").attr("stroke", "#333");
    ax.selectAll(".tick text").attr("fill", "#4D4D4D").style("font-size", "15px")
      .attr("font-family", "Liberation Sans, Arial, sans-serif");

    // strip
    if (r === 0) {
      svg.append("rect").attr("x", x0).attr("y", 8).attr("width", panelW).attr("height", 25)
        .attr("fill", "#D9D9D9");
      svg.append("text").attr("x", x0 + panelW / 2).attr("y", 26.5)
        .attr("text-anchor", "middle").attr("fill", "#1A1A1A")
        .style("font-size", "17px").style("font-weight", "bold").text(colName);
    }
  });

  // y axis
  const yAxis = d3.axisLeft(yScale).tickValues(row.ticks).tickSize(3.7).tickPadding(3)
    .tickFormat(d3.format("d"));
  const ay = svg.append("g").attr("transform", `translate(${panelLeft[0]},0)`).call(yAxis);
  ay.select(".domain").remove();
  ay.selectAll(".tick line").attr("stroke", "#333");
  ay.selectAll(".tick text").attr("fill", "#4D4D4D").style("font-size", "15px")
    .attr("font-family", "Liberation Sans, Arial, sans-serif");

  svg.append("text")
    .attr("transform", `translate(${row.titleX},${row.titleY}) rotate(-90)`)
    .attr("text-anchor", "middle").attr("fill", "#000").style("font-size", "20px")
    .text(row.title);

  svg.append("text").attr("x", 10).attr("y", row.tagY)
    .attr("fill", "#FF0000").style("font-size", "20px").style("font-weight", "bold")
    .text(row.tag);
});

// x title
svg.append("text").attr("x", 690).attr("y", 657).attr("text-anchor", "middle")
  .style("font-size", "19.5px").attr("fill", "#000").text("GEDI structural variable");

// legend
const legend = svg.append("g");
let lx = 357;
groups.forEach((gname, k) => {
  const key = legend.append("g").attr("transform", `translate(${lx},668)`);
  key.append("rect").attr("width", 15).attr("height", 17).attr("fill", "#F2F2F2");
  key.append("line").attr("x1", 1).attr("x2", 14).attr("y1", 8).attr("y2", 8)
    .attr("stroke", lineColor[k]).attr("stroke-width", 2.4);
  key.append("rect").attr("x", 5).attr("y", 8).attr("width", 5).attr("height", 5)
    .attr("fill", pointColor[k]);
  const t = legend.append("text").attr("x", lx + 20).attr("y", 684)
    .style("font-size", "19.5px").attr("fill", "#000").text(gname);
  lx += 20 + t.node().getComputedTextLength() + 7;
});
</script>
</body>
</html>
